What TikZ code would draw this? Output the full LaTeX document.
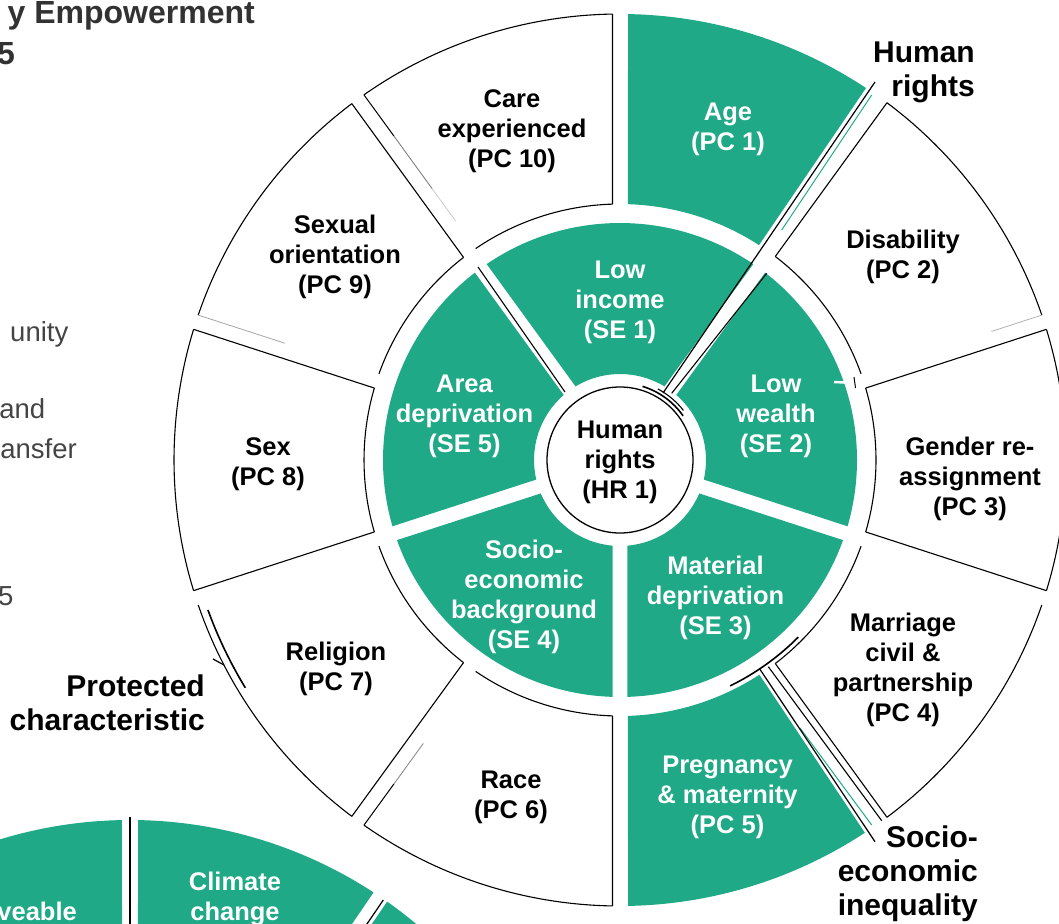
\documentclass[tikz,border=0pt]{standalone}
\usepackage{fontspec}
\setmainfont{Liberation Sans}
\definecolor{wheelgreen}{RGB}{31,169,134}
\definecolor{titlegrey}{RGB}{50,50,50}
\definecolor{bodygrey}{RGB}{68,68,68}

% filled annular sector whose sides are parallel to the radial lines (constant gap)
\newcommand{\gapsector}[6]{% #1 style, #2 start angle, #3 end angle, #4 inner r, #5 outer r, #6 half gap
  \pgfmathsetmacro\gsOa{#2+asin(#6/#5)}%
  \pgfmathsetmacro\gsOb{#3-asin(#6/#5)}%
  \pgfmathsetmacro\gsIa{#2+asin(#6/#4)}%
  \pgfmathsetmacro\gsIb{#3-asin(#6/#4)}%
  \path[#1] (\gsOa:#5) arc[start angle=\gsOa, end angle=\gsOb, radius=#5]
    -- (\gsIb:#4) arc[start angle=\gsIb, end angle=\gsIa, radius=#4] -- cycle;
}
% outline of an outer-ring sector; each straight side gets its own style
\newcommand{\pcoutline}[7]{% #1,#2 angles, #3,#4 half gaps, #5 start side, #6 end side, #7 arcs
  \pgfmathsetmacro\pcOa{#1+asin(#3/\pcRo)}%
  \pgfmathsetmacro\pcOb{#2-asin(#4/\pcRo)}%
  \pgfmathsetmacro\pcIa{#1+asin(#3/\pcRi)}%
  \pgfmathsetmacro\pcIb{#2-asin(#4/\pcRi)}%
  \draw[#7] (\pcOa:\pcRo) arc[start angle=\pcOa, end angle=\pcOb, radius=\pcRo];
  \draw[#7] (\pcIa:\pcRi) arc[start angle=\pcIa, end angle=\pcIb, radius=\pcRi];
  \draw[#5] (\pcIa:\pcRi) -- (\pcOa:\pcRo);
  \draw[#6] (\pcIb:\pcRi) -- (\pcOb:\pcRo);
}
\def\pcRo{446}
\def\pcRi{256}

\begin{document}
\begin{tikzpicture}[x=1pt,y=1pt,
  grn/.style={fill=wheelgreen},
  outl/.style={draw=black, line width=1.1pt},
  leader/.style={draw=black, line width=1.2pt},
  bracket/.style={draw=black, line width=1.6pt},
  teal/.style={draw=wheelgreen, line width=1pt},
  % multi-line labels are placed by the baseline of their last line
  seglbl/.style={font=\bfseries\fontsize{25.5}{30}\selectfont, align=center, anchor=base, inner sep=0pt, text=black},
  seglblw/.style={seglbl, text=white},
  biglbl/.style={font=\bfseries\fontsize{30}{34}\selectfont, align=right, anchor=base east, inner sep=0pt, text=black},
  titletxt/.style={font=\bfseries\fontsize{32}{42}\selectfont, anchor=base east, inner sep=0pt, text=titlegrey},
  bodytxt/.style={font=\fontsize{27.5}{39}\selectfont, anchor=base east, inner sep=0pt, text=bodygrey}]

\useasboundingbox (0,-923) rectangle (1059,0);
\clip (0,-923) rectangle (1059,0);
\fill[white] (0,-923) rectangle (1059,0);

% ---------- text on the left ----------
\node[titletxt] (title1) at (255,-23.5) {y Empowerment};
\node[titletxt] (title2) at (15,-65) {5};
\node[bodytxt] (body1) at (68.5,-341) {unity};
\node[bodytxt] (body2) at (45.5,-418) {and};
\node[bodytxt] (body3) at (77,-458) {ansfer};
\node[bodytxt] (body4) at (13.5,-605) {5};

% ---------- second wheel (lower left) ----------
\begin{scope}[shift={(130,-1266)}]
  \fill[grn] (91.03:446) arc[start angle=91.03, end angle=140, radius=446]
    -- (140:256) arc[start angle=140, end angle=91.79, radius=256] -- cycle;
  \fill[grn] (88.97:446) arc[start angle=88.97, end angle=56.9, radius=446]
    -- (136.4,216.6) arc[start angle=57.8, end angle=88.21, radius=256] -- cycle;
  \fill[grn] (54.79:446) arc[start angle=54.79, end angle=18.96, radius=446]
    -- (19.68:256) arc[start angle=19.68, end angle=54.13, radius=256] -- cycle;
  \coordinate (wtA) at (0,449);
  \coordinate (wtB) at (0,256);
  \draw[leader] (wtA) -- (wtB);
  \coordinate (wlA) at (253.3,366);
  \coordinate (wlB) at (140,200);
  \draw[leader] (wlA) -- (wlB);
\end{scope}
\node[seglblw] (clim) at (235,-920) {Climate\\change};
\node[seglblw, anchor=base east] (movb) at (77,-920) {veable};

% ---------- main wheel ----------
\begin{scope}[shift={(620,-460)}]
  % inner ring: socio-economic sectors
  \gapsector{grn}{54}{126}{86}{237}{7.3}
  \gapsector{grn}{-18}{54}{86}{237}{7.3}
  \gapsector{grn}{-90}{-18}{86}{237}{7.3}
  \gapsector{grn}{198}{270}{86}{237}{7.3}
  \gapsector{grn}{126}{198}{86}{237}{7.3}

  % centre circle
  \node[circle, draw=black, line width=1.3pt, fill=white, minimum size=146pt, inner sep=0pt] (hub) at (0,0) {};

  % outer ring: the two filled sectors
  \fill[grn] (88.97:446) arc[start angle=88.97, end angle=56.52, radius=446]
    -- (139.0,214.9) arc[start angle=57.10, end angle=88.21, radius=256] -- cycle;
  \fill[grn] (-88.97:446) arc[start angle=-88.97, end angle=-56.70, radius=446]
    -- (139.39,-214.73) arc[start angle=-57.0, end angle=-88.21, radius=256] -- cycle;

  % outer ring: outlined sectors
  \pcoutline{18}{54}{7.5}{6}{draw=none}{outl}{outl}
  \pcoutline{-18}{18}{7.5}{7.5}{outl}{outl}{outl}
  \pcoutline{-54}{-18}{6}{7.5}{outl}{draw=none}{outl}
  \pcoutline{-126}{-90}{7.5}{7.5}{draw=none}{outl}{outl}
  \pcoutline{-162}{-126}{7.5}{7.5}{draw=none}{outl}{outl}
  \pcoutline{162}{198}{7.5}{7.5}{outl}{outl}{outl}
  \pcoutline{126}{162}{7.5}{7.5}{outl}{draw=none}{outl}
  \pcoutline{90}{126}{7.5}{7.5}{outl}{draw=none}{outl}

  % sides that fade out towards the centre
  \draw[black, line width=1pt] (125.04:446) -- (124.91:395);
  \draw[black!50, line width=0.9pt] (124.91:395) -- (124.70:330);
  \draw[black!20, line width=0.8pt] (124.70:330) -- (124.52:290);
  \draw[black, line width=1pt] (-125.04:446) -- (-124.91:395);
  \draw[black!45, line width=0.9pt] (-124.91:395) -- (-124.76:345);
  \draw[black!35, line width=0.8pt] (161.04:446) -- (160.79:355);
  \draw[black!30, line width=0.8pt] (18.96:446) -- (19.09:393);

  % thin lines left in the gaps
  \draw[outl] (146.7,186.7) -- (51.7,66.7);
  \draw[outl] (-142,193) -- (-55,68);
  \draw[outl] (148.3,-206.7) -- (261.7,-360.7);
  \draw[teal] (251.7,365) -- (161.7,230);
  \draw[teal] (180,-268) -- (251.7,-365);
  \draw[white, line width=2.5pt] (214,78) -- (236,77);
  \draw[black, line width=1pt] (234,83) -- (235.5,72);

  % leaders and brackets of the three groups
  \coordinate (hrA) at (43,67);
  \coordinate (hrB) at (255,378);
  \draw[leader] (hrA) -- (hrB);
  \draw[bracket] (73:77) arc[start angle=73, end angle=35, radius=77];
  \draw[outl] (62:80.5) arc[start angle=62, end angle=38, radius=80.5];

  \coordinate (seA) at (139.3,-208.3);
  \coordinate (seB) at (255,-381.7);
  \draw[leader] (seA) -- (seB);
  \draw[bracket] (-64:251.3) arc[start angle=-64, end angle=-44.8, radius=251.3];

  \coordinate (pcA) at (-407,-199);
  \coordinate (pcB) at (-396,-205);
  \draw[leader] (pcA) -- (pcB);
  \draw[bracket] (200:438.5) arc[start angle=200, end angle=211.3, radius=438.5];
\end{scope}

% ---------- sector labels ----------
\node[seglbl]  (pc10) at (512,-167) {Care\\experienced\\(PC 10)};
\node[seglblw] (pc1)  at (728,-150) {Age\\(PC 1)};
\node[seglbl]  (pc2)  at (903,-278) {Disability\\(PC 2)};
\node[seglbl]  (pc3)  at (970,-515) {Gender re-\\assignment\\(PC 3)};
\node[seglbl]  (pc4)  at (903,-721) {Marriage\\civil \&\\partnership\\(PC 4)};
\node[seglblw] (pc5)  at (727.5,-833) {Pregnancy\\\& maternity\\(PC 5)};
\node[seglbl]  (pc6)  at (511,-818) {Race\\(PC 6)};
\node[seglbl]  (pc7)  at (336,-690) {Religion\\(PC 7)};
\node[seglbl]  (pc8)  at (268,-485) {Sex\\(PC 8)};
\node[seglbl]  (pc9)  at (335,-293) {Sexual\\orientation\\(PC 9)};

\node[seglblw] (se1) at (620,-338) {Low\\income\\(SE 1)};
\node[seglblw] (se2) at (776,-452) {Low\\wealth\\(SE 2)};
\node[seglblw] (se3) at (715.5,-634) {Material\\deprivation\\(SE 3)};
\node[seglblw] (se4) at (524,-648) {Socio-\\economic\\background\\(SE 4)};
\node[seglblw] (se5) at (464.5,-452) {Area\\deprivation\\(SE 5)};
\node[seglbl]  (hr1) at (620,-498) {Human\\rights\\(HR 1)};

% ---------- group labels ----------
\node[biglbl] (grphr) at (975,-97) {Human\\rights};
\node[biglbl] (grppc) at (205,-730) {Protected\\characteristic};
\node[biglbl] (grpse) at (978,-915) {Socio-\\economic\\inequality};
\end{tikzpicture}
\end{document}
